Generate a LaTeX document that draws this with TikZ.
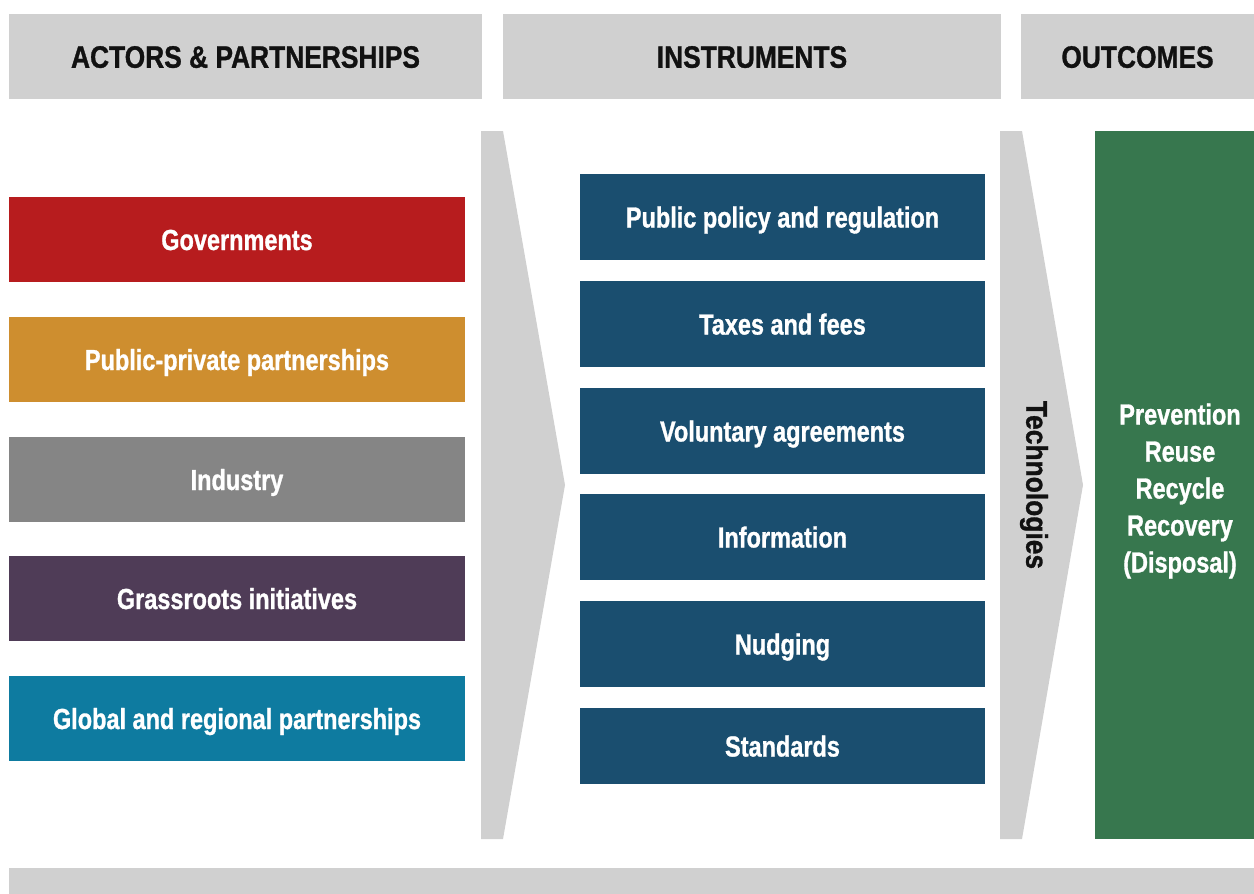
\documentclass[tikz,border=0pt]{standalone}
\usepackage{fontspec}
\newfontfamily\cond[FakeStretch=0.81,FakeBold=1]{Liberation Sans}
\newfontfamily\hdrfont[FakeStretch=0.85,FakeBold=1]{Liberation Sans}
\newfontfamily\techfont[FakeStretch=0.88,FakeBold=1]{Liberation Sans}
\definecolor{hdrgray}{HTML}{D0D0D0}
\definecolor{cred}{HTML}{B71C1E}
\definecolor{corange}{HTML}{CE8E2F}
\definecolor{cgray}{HTML}{858585}
\definecolor{cpurple}{HTML}{4F3C57}
\definecolor{cteal}{HTML}{0E7BA0}
\definecolor{cnavy}{HTML}{1A4E6F}
\definecolor{cgreen}{HTML}{37774E}
\definecolor{ink}{HTML}{111111}
\tikzset{
  hdr/.style={fill=hdrgray, inner sep=0pt, minimum height=85pt, text=ink,
    text height=22.5pt, text depth=0pt,
    font=\hdrfont\bfseries\fontsize{31}{37}\selectfont},
  actor/.style={inner sep=0pt, minimum width=456pt, minimum height=85pt, text=white,
    text height=21pt, text depth=0pt,
    font=\cond\bfseries\fontsize{29}{37}\selectfont},
  instr/.style={fill=cnavy, inner sep=0pt, minimum width=405pt, minimum height=86pt, text=white,
    text height=21pt, text depth=0pt,
    font=\cond\bfseries\fontsize{29}{37}\selectfont},
  chevron/.style={fill=hdrgray},
}
\begin{document}
\begin{tikzpicture}[x=1pt,y=-1pt]
\useasboundingbox (0,0) rectangle (1254,894);
% headers
\node[hdr, minimum width=473pt] (h1) at (245.5,56.5) {ACTORS \& PARTNERSHIPS};
\node[hdr, minimum width=498pt] (h2) at (752,56.5) {INSTRUMENTS};
\node[hdr, minimum width=233pt] (h3) at (1137.5,56.5) {OUTCOMES};
% chevrons
\fill[chevron] (481,131) -- (503,131) -- (565,485) -- (503,839) -- (481,839) -- cycle;
\fill[chevron] (1000,131) -- (1022,131) -- (1083,485) -- (1022,839) -- (1000,839) -- cycle;
\node[rotate=-90, text=ink, inner sep=0pt, font=\techfont\bfseries\fontsize{30}{36}\selectfont] (tech) at (1034,485) {Technologies};
% actors
\node[actor, fill=cred] (gov) at (237,239.5) {Governments};
\node[actor, fill=corange] (ppp) at (237,359.5) {Public-private partnerships};
\node[actor, fill=cgray] (ind) at (237,479.5) {Industry};
\node[actor, fill=cpurple] (grass) at (237,598.5) {Grassroots initiatives};
\node[actor, fill=cteal] (glob) at (237,718.5) {Global and regional partnerships};
% instruments
\node[instr] (pol) at (782.5,217) {Public policy and regulation};
\node[instr] (tax) at (782.5,324) {Taxes and fees};
\node[instr] (vol) at (782.5,431) {Voluntary agreements};
\node[instr] (inf) at (782.5,537) {Information};
\node[instr] (nud) at (782.5,644) {Nudging};
\node[instr, minimum height=76pt] (std) at (782.5,746) {Standards};
% outcomes
\node[fill=cgreen, inner sep=0pt, minimum width=159pt, minimum height=708pt] (out) at (1174.5,485) {};
\node[text=white, align=center, inner sep=0pt, font=\cond\bfseries\fontsize{29}{37}\selectfont] (outtxt) at (1180,491)
  {Prevention\\Reuse\\Recycle\\Recovery\\(Disposal)};
% bottom bar
\fill[hdrgray] (9,868) rectangle (1254,894);
\end{tikzpicture}
\end{document}
